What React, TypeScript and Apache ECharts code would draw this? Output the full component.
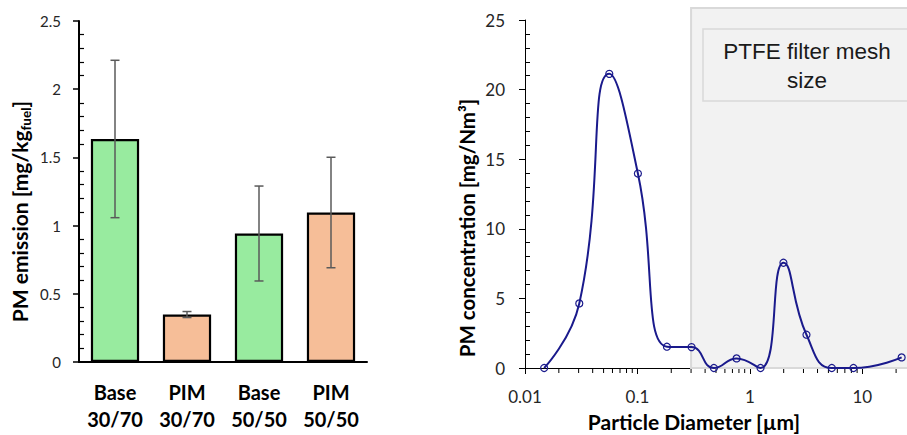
import React, { useEffect, useRef } from "react";
import * as echarts from "echarts";

// ---- Left chart data ----
const barCategories = ["Base\n30/70", "PIM\n30/70", "Base\n50/50", "PIM\n50/50"];
const barGroups = ["Base", "PIM", "Base", "PIM"];
const barValues = [1.635, 0.348, 0.942, 1.096];
const barErrors = [0.577, 0.022, 0.348, 0.405];

// ---- Right chart data ----
const diameters = [0.0148, 0.0304, 0.0562, 0.101, 0.183, 0.303, 0.479, 0.762, 1.245, 1.99, 3.19, 5.36, 8.35, 22.4];
const concentrations = [0, 4.64, 21.13, 13.97, 1.53, 1.5, 0, 0.69, 0, 7.56, 2.39, 0, 0, 0.76];
const logMinorTicks = [
  0.02, 0.03, 0.04, 0.05, 0.06, 0.07, 0.08, 0.09,
  0.2, 0.3, 0.4, 0.5, 0.6, 0.7, 0.8, 0.9,
  2, 3, 4, 5, 6, 7, 8, 9, 20,
];
const meshFrom = [0.3];
const meshTo = [25];
const meshTop = [25.87];
const meshLabel = "PTFE filter mesh\nsize";

const FONT = "Lato";
const groupColors: Record<string, string> = { Base: "#98EB9F", PIM: "#F6BE98" };

export default function App() {
  const ref = useRef<HTMLDivElement>(null);
  useEffect(() => {
    if (!ref.current) return;
    const chart = echarts.init(ref.current, null, { renderer: "svg" });
    const tickLabel = { fontFamily: FONT, color: "#262626" };
    const titleStyle = { fontFamily: FONT, fontSize: 21, fontWeight: "bold" as const, color: "#000" };

    const option: any = {
      animation: false,
      backgroundColor: "#fff",
      grid: [
        { left: 79, top: 21, width: 288, height: 341, outerBoundsMode: "none", containLabel: false },
        { left: 525, top: 20, width: 382, height: 348, outerBoundsMode: "none", containLabel: false },
      ],
      xAxis: [
        {
          type: "category",
          gridIndex: 0,
          data: barCategories,
          axisLine: { lineStyle: { color: "#000", width: 2 } },
          axisTick: { show: false },
          axisLabel: { ...tickLabel, color: "#000", fontSize: 20, fontWeight: "bold", lineHeight: 27, margin: 16, interval: 0 },
        },
        {
          type: "log",
          gridIndex: 1,
          logBase: 10,
          min: 0.01,
          max: 25,
          axisLine: { lineStyle: { color: "#000", width: 1 } },
          axisTick: { show: true, length: 6, lineStyle: { color: "#000" } },
          splitLine: { show: false },
          axisLabel: {
            ...tickLabel,
            fontSize: 17,
            margin: 20,
            showMaxLabel: false,
            formatter: (v: number) => {
              const l = Math.log10(v);
              return Math.abs(l - Math.round(l)) < 1e-6 ? String(+v.toPrecision(6)) : "";
            },
          },
          name: "Particle Diameter [µm]",
          nameLocation: "middle",
          nameGap: 43,
          nameTextStyle: { ...titleStyle, padding: [0, 44, 0, 0] },
        },
      ],
      yAxis: [
        {
          type: "value",
          gridIndex: 0,
          min: 0,
          max: 2.5,
          interval: 0.5,
          axisLine: { show: true, lineStyle: { color: "#000", width: 2 } },
          axisTick: { show: true, length: 6, lineStyle: { color: "#000", width: 1.5 } },
          minorTick: { show: true, splitNumber: 5, length: -5, lineStyle: { color: "#000", width: 1.2 } },
          splitLine: { show: false },
          minorSplitLine: { show: false },
          axisLabel: { ...tickLabel, fontSize: 15, margin: 18 },
          name: "{t|PM emission [mg/kg}{s|fuel}{t|]}",
          nameLocation: "middle",
          nameGap: 46,
          nameTextStyle: {
            ...titleStyle,
            padding: [0, 40, 0, 0],
            rich: {
              t: { ...titleStyle, lineHeight: 28 },
              s: { ...titleStyle, fontSize: 13.5, lineHeight: 13, verticalAlign: "bottom" },
            },
          },
        },
        {
          type: "value",
          gridIndex: 1,
          min: 0,
          max: 25,
          interval: 5,
          axisLine: { show: true, lineStyle: { color: "#000", width: 1 } },
          axisTick: { show: true, length: 6, lineStyle: { color: "#000" } },
          minorTick: { show: true, splitNumber: 5, length: -5, lineStyle: { color: "#000", width: 1 } },
          splitLine: { show: false },
          minorSplitLine: { show: false },
          axisLabel: { ...tickLabel, fontSize: 17, margin: 20 },
          name: "PM concentration [mg/Nm³]",
          nameLocation: "middle",
          nameGap: 48,
          nameTextStyle: { ...titleStyle, fontSize: 20.5, padding: [0, 68, 0, 0] },
        },
      ],
      series: [
        {
          type: "bar",
          xAxisIndex: 0,
          yAxisIndex: 0,
          barWidth: "67%",
          data: barValues.map((v, i) => ({
            value: v,
            itemStyle: { color: groupColors[barGroups[i]], borderColor: "#000", borderWidth: 2.2 },
          })),
          z: 2,
        },
        {
          type: "custom",
          xAxisIndex: 0,
          yAxisIndex: 0,
          z: 3,
          data: barValues.map((v, i) => [i, v - barErrors[i], v + barErrors[i]]),
          encode: { x: 0, y: [1, 2] },
          renderItem: (_p: any, api: any) => {
            const x = api.value(0);
            const lo = api.coord([x, api.value(1)]);
            const hi = api.coord([x, api.value(2)]);
            const cap = 4.5;
            const style = { stroke: "#5a5a5a", lineWidth: 1.5 };
            return {
              type: "group",
              children: [
                { type: "line", shape: { x1: lo[0], y1: lo[1], x2: hi[0], y2: hi[1] }, style },
                { type: "line", shape: { x1: lo[0] - cap, y1: lo[1], x2: lo[0] + cap, y2: lo[1] }, style },
                { type: "line", shape: { x1: hi[0] - cap, y1: hi[1], x2: hi[0] + cap, y2: hi[1] }, style },
              ],
            };
          },
        },
        {
          // shaded filter-mesh region
          type: "custom",
          xAxisIndex: 1,
          yAxisIndex: 1,
          z: 1,
          clip: false,
          silent: true,
          data: meshFrom.map((f, i) => [f, meshTo[i], meshTop[i]]),
          encode: { x: [0, 1], y: 2 },
          renderItem: (_p: any, api: any) => {
            const p0 = api.coord([api.value(0), 0]);
            const p1 = api.coord([api.value(1), api.value(2)]);
            return {
              type: "rect",
              shape: { x: p0[0], y: p1[1], width: p1[0] - p0[0] + 6, height: p0[1] - p1[1] },
              style: { fill: "#F2F2F2", stroke: "#D9D9D9", lineWidth: 2 },
            };
          },
        },
        {
          // logarithmic minor x ticks
          type: "custom",
          xAxisIndex: 1,
          yAxisIndex: 1,
          z: 1,
          clip: false,
          silent: true,
          data: logMinorTicks.map((v) => [v, 0]),
          encode: { x: 0, y: 1 },
          renderItem: (_p: any, api: any) => {
            const p = api.coord([api.value(0), 0]);
            return {
              type: "line",
              shape: { x1: p[0], y1: p[1] + 1, x2: p[0], y2: p[1] + 5 },
              style: { stroke: "#000", lineWidth: 1 },
            };
          },
        },
        {
          type: "line",
          xAxisIndex: 1,
          yAxisIndex: 1,
          z: 4,
          clip: false,
          smooth: 0.5,
          data: diameters.map((d, i) => [d, concentrations[i]]),
          lineStyle: { color: "#1A1A8C", width: 2 },
          symbol: "circle",
          symbolSize: 7,
          itemStyle: { color: "rgba(0,0,0,0)", borderColor: "#1A1A8C", borderWidth: 1.2 },
        },
      ],
      graphic: [
        {
          type: "rect",
          z: 100,
          shape: { x: 703, y: 29, width: 215, height: 72 },
          style: { fill: "#F2F2F2", stroke: "#D9D9D9", lineWidth: 1.5 },
        },
        {
          type: "text",
          z: 101,
          x: 807,
          y: 66,
          style: {
            text: meshLabel,
            font: '22.5px "Liberation Sans", Arial, sans-serif',
            lineHeight: 28.5,
            fill: "#1a1a1a",
            align: "center",
            verticalAlign: "middle",
          },
        },
      ],
    };
    chart.setOption(option);
    return () => chart.dispose();
  }, []);
  return <div ref={ref} style={{ width: 907, height: 435, position: "absolute", left: 0, top: 0 }} />;
}
